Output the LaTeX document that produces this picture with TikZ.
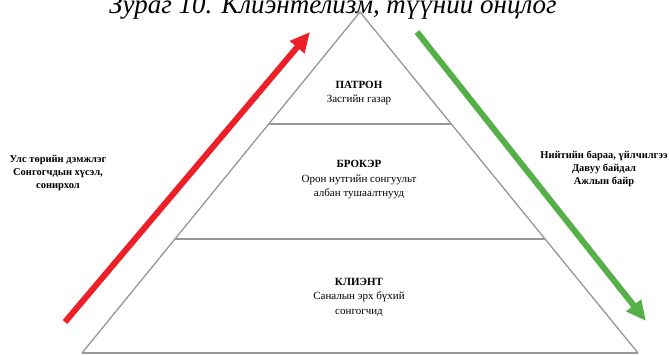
\documentclass[tikz,border=0pt]{standalone}
\usepackage{fontspec}
\setmainfont{Liberation Serif}
\usetikzlibrary{arrows.meta}
\definecolor{tri}{RGB}{150,150,155}
\definecolor{redarr}{RGB}{236,32,38}
\definecolor{greenarr}{RGB}{86,176,72}
\tikzset{
  edge/.style={draw=tri, line width=1.3pt},
  lbl/.style={align=center, font=\fontsize{11}{14.5}\selectfont, inner sep=0pt},
  side/.style={align=center, font=\bfseries\fontsize{10.5}{13}\selectfont, inner sep=0pt},
  bigarrow/.style={line width=6pt, -{Triangle[length=20pt,width=18pt]}},
}
\begin{document}
\begin{tikzpicture}[x=1pt,y=-1pt]
\useasboundingbox (0,0) rectangle (669,354);
% triangle
\coordinate (apex) at (360,12);
\coordinate (bl) at (82,353);
\coordinate (br) at (638,353);
\coordinate (l1) at (268.7,124);
\coordinate (r1) at (451.3,124);
\coordinate (l2) at (175,239);
\coordinate (r2) at (545,239);
\draw[edge] (bl) -- (apex) -- (br);
\draw[edge] (bl) -- (br);
\draw[edge] (l1) -- (r1);
\draw[edge] (l2) -- (r2);
% title (cropped at top, as in the reference)
\node[font=\itshape\fontsize{27}{27}\selectfont, anchor=base, inner sep=0pt] (title) at (333,13) {Зураг 10. Клиэнтелизм, түүний онцлог};
% level labels
\node[lbl] (patron) at (359,93) {\textbf{ПАТРОН}\\Засгийн газар};
\node[lbl] (broker) at (359,180) {\textbf{БРОКЭР}\\Орон нутгийн сонгуульт\\албан тушаалтнууд};
\node[lbl] (client) at (359,297) {\textbf{КЛИЭНТ}\\Саналын эрх бүхий\\сонгогчид};
% side texts
\node[side] (left) at (58,173) {Улс төрийн дэмжлэг\\Сонгогчдын хүсэл,\\сонирхол};
\node[side] (right) at (604,169) {Нийтийн бараа, үйлчилгээ\\Давуу байдал\\Ажлын байр};
% arrows
\coordinate (rs) at (65,322);
\coordinate (re) at (310,32);
\coordinate (gs) at (417,32);
\coordinate (ge) at (646,321);
\draw[bigarrow, redarr] (rs) -- (re);
\draw[bigarrow, greenarr] (gs) -- (ge);
\end{tikzpicture}
\end{document}
